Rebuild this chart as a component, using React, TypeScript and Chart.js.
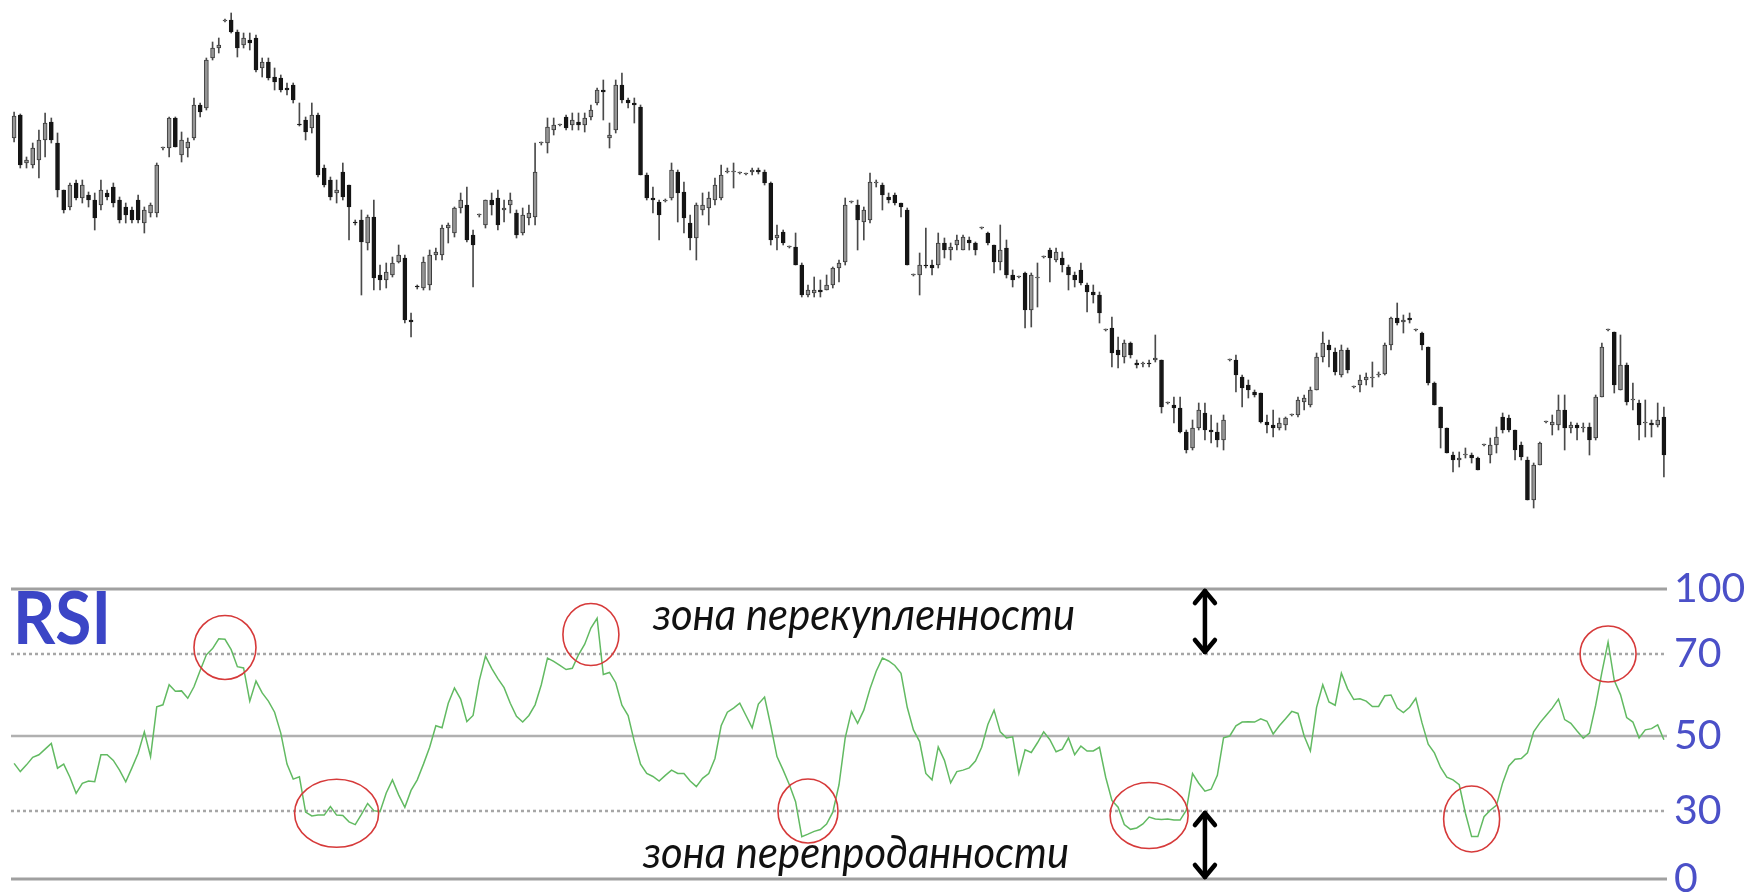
import React, { useEffect, useRef } from 'react';
import { Chart, registerables, LinearScale } from 'chart.js';

Chart.register(...registerables);

// ---------- price candles (one per session) ----------
const candleOpen = [
  862,885,837,835,840,860,878,857,810,793, 817,802,805,800,795,807,813,800,793,790,
  800,777,787,787,852,852,882,845,852,862, 895,892,942,952,979,980,968,955,960,962,
  932,938,923,922,912,915,876,880,872,885, 832,820,807,828,815,778,780,757,783,725,
  720,725,738,742,680,714,712,715,745,745, 772,767,792,795,765,785,775,800,802,790,
  795,787,767,782,783,857,857,870,875,883, 875,878,875,883,897,910,862,870,915,900,
  897,893,825,802,798,799,802,828,808,777, 762,790,792,800,802,828,828,827,826,828,
  830,828,817,762,768,753,753,735,705,707, 710,710,715,732,738,798,795,778,780,817,
  815,803,805,797,790,725,725,735,735,735, 757,750,755,750,760,757,772,767,755,738,
  752,725,723,727,690,722,743,750,740,742, 733,725,730,715,708,705,670,672,650,643,
  657,637,636,637,640,640,597,595,592,568, 552,572,587,570,568,560,640,640,623,615,
  608,607,578,575,572,575,585,585,598,595, 610,643,655,648,625,650,613,615,620,622,
  625,626,655,682,678,682,670,667,653,617, 593,572,545,540,545,545,542,555,545,555,
  583,582,570,555,540,500,535,578,575,575, 590,572,575,572,573,562,603,670,668,610,
  635,600,597,577,577,575,583,
];
const candleHigh = [
  888,886,843,857,870,887,882,867,810,817, 820,820,808,807,820,810,817,803,797,793,
  805,793,797,837,853,883,883,868,862,902, 897,942,958,962,981,987,970,967,967,965,
  942,942,932,925,917,917,897,883,897,887, 835,823,820,837,815,780,790,785,800,735,
  737,743,755,745,687,715,743,750,752,775, 777,793,807,813,770,786,800,807,810,800,
  807,790,792,795,857,858,882,882,876,885, 887,887,887,895,912,920,877,920,927,902,
  902,895,827,813,800,801,837,830,818,785, 797,807,808,822,835,832,837,828,827,832,
  832,830,818,775,770,754,767,737,715,723, 720,725,733,740,802,799,800,793,827,820,
  817,807,807,797,792,726,747,772,740,767, 762,757,765,765,763,758,773,768,755,775,
  760,730,724,728,727,737,744,752,752,748, 735,728,737,717,715,708,671,683,663,660,
  658,640,638,640,665,640,598,603,603,570, 580,597,597,585,577,585,641,645,625,620,
  610,607,585,590,582,583,586,603,605,613, 647,668,660,652,655,652,614,625,627,638,
  628,657,683,697,685,687,671,668,653,618, 593,572,548,548,552,547,543,556,562,573,
  587,585,570,558,543,537,558,579,585,605, 605,578,577,577,577,605,657,671,668,665,
  637,617,600,600,580,597,593,
];
const candleLow = [
  858,832,832,832,822,843,857,803,787,790, 800,797,793,770,790,800,793,777,777,777,
  777,767,783,783,850,843,853,838,843,860, 883,890,940,947,978,967,943,952,950,928,
  923,920,910,908,905,897,874,860,867,823, 813,800,797,800,760,775,705,750,710,710,
  712,723,737,677,663,711,710,710,740,740, 757,763,787,758,713,783,772,785,770,778,
  787,762,765,775,775,855,847,865,874,870, 870,870,868,880,895,880,852,867,897,892,
  877,825,800,787,760,798,800,778,767,750, 740,785,775,795,800,827,812,826,825,825,
  826,815,755,750,755,752,735,703,703,703, 703,710,712,718,735,797,750,760,777,813,
  790,797,795,783,735,724,705,732,725,732, 742,740,750,750,750,745,771,755,727,730,
  722,713,722,672,673,693,742,718,738,728, 710,713,715,688,697,677,669,633,632,637,
  642,632,633,633,638,587,596,577,567,547, 550,570,560,557,553,550,639,608,593,602,
  603,577,567,563,570,570,584,583,590,593, 610,638,633,625,623,627,612,608,615,613,
  623,625,650,675,667,677,669,650,615,595, 552,547,528,533,542,537,530,554,537,547,
  567,568,540,540,500,492,535,577,565,570, 550,567,560,568,545,560,603,669,607,610,
  595,590,560,563,563,573,523,
];
const candleClose = [
  884,835,840,852,860,877,860,810,790,815, 802,815,800,782,810,803,797,780,785,780,
  780,790,795,835,852,882,853,860,858,895, 888,940,952,955,980,968,952,962,957,930,
  938,922,918,910,910,900,875,868,885,825, 815,803,810,803,793,777,758,783,722,720,
  728,737,745,680,678,713,738,745,748,772, 775,792,800,760,755,785,800,795,775,792,
  800,765,785,787,828,857,873,875,875,872, 880,875,882,890,910,908,865,915,900,897,
  895,825,802,800,785,800,830,807,782,762, 795,795,802,815,825,828,828,827,826,830,
  828,817,760,765,757,753,735,705,710,710, 708,715,732,737,795,798,780,790,818,817,
  805,800,797,793,735,725,735,734,732,757, 750,753,760,763,757,750,772,757,738,750,
  725,720,723,690,725,722,743,742,748,735, 725,720,717,708,705,687,670,647,645,657,
  645,635,637,636,642,593,597,592,568,550, 572,590,570,568,560,580,640,625,612,610,
  605,578,575,572,577,582,585,600,602,610, 643,657,650,628,650,630,613,620,623,622,
  626,655,682,677,680,680,670,655,617,595, 572,547,540,542,545,542,530,555,555,563,
  570,570,550,543,500,535,557,578,578,590, 572,575,572,573,560,603,653,670,615,635,
  598,600,575,577,575,580,545,
];

// ---------- RSI, one value per session ----------
const rsiValues = [
  42.7,40.5,42.3,44.3,45.0,46.5,48.0,41.4,42.5,39.0, 34.7,37.4,38.0,37.8,45.0,45.0,43.5,40.9,37.8,41.5,
  45.4,51.0,44.5,57.1,57.6,62.5,60.9,61.0,59.2,62.0, 66.0,69.8,72.5,77.0,76.8,72.0,66.9,66.6,58.5,63.4,
  60.5,58.5,55.8,50.7,42.5,38.5,39.1,29.5,27.8,28.2, 28.2,31.2,28.2,28.0,25.2,24.0,28.5,32.0,30.1,29.7,
  34.8,38.3,34.3,31.0,35.5,38.3,42.5,47.0,52.5,52.0, 58.0,61.7,59.0,53.5,55.0,63.5,69.5,66.5,64.0,61.8,
  58.0,54.8,53.4,55.0,57.6,62.5,69.0,68.2,67.2,66.2, 66.5,69.8,74.5,82.0,86.5,65.0,65.5,63.0,57.5,55.0,
  48.5,42.5,40.0,39.2,38.0,39.5,40.9,40.0,40.0,38.0, 36.5,38.7,40.0,44.0,52.5,55.8,56.8,58.0,55.0,52.0,
  57.8,59.5,52.5,44.5,40.9,37.0,32.5,18.7,19.8,21.0, 21.8,24.2,29.5,37.0,49.5,56.0,53.1,56.3,61.5,65.8,
  69.0,68.3,67.2,65.3,57.0,51.5,48.5,40.0,38.3,47.1, 43.5,37.5,40.5,40.9,41.5,43.3,47.0,52.8,56.3,51.0,
  49.5,49.8,40.0,46.3,45.6,48.2,51.0,49.0,45.8,46.5, 49.5,45.0,47.3,46.0,46.0,47.0,39.0,32.8,31.0,24.0,
  21.9,22.5,24.3,27.3,26.5,26.3,26.5,26.0,26.0,30.2, 40.0,37.4,35.3,35.8,39.5,49.5,50.0,52.5,53.4,53.5,
  53.4,54.2,53.6,50.5,52.5,54.2,56.0,55.5,50.0,46.0, 57.0,62.5,58.3,57.5,65.3,61.5,58.9,59.1,58.5,57.2,
  57.2,59.8,60.0,56.8,55.7,57.0,59.2,53.2,47.8,45.5, 41.6,39.0,38.3,37.0,29.0,18.7,18.7,27.5,30.2,31.5,
  37.5,42.0,43.8,44.0,45.5,51.0,53.2,55.0,56.8,59.0, 54.0,53.1,51.2,49.4,50.7,57.5,65.5,75.5,63.5,60.1,
  54.5,53.4,49.5,51.5,51.8,52.7,49.0,
];

const rsiTickValues = [0, 30, 50, 70, 100];
const rsiLevels = [100, 70, 50, 30, 0];
const overboughtLevel = 70;
const oversoldLevel = 30;

// Circled extremes: session index and RSI value at the circle's centre
const markedIndex = [34, 52, 93, 128, 183, 235, 257];
const markedValue = [73, 29, 79, 30, 28, 26.5, 70];
const arrowIndex = 192;

const labelOverbought = 'зона перекупленности';
const labelOversold = 'зона перепроданности';

// The reference draws the RSI panel on a non-uniform vertical scale
const rsiAxisStops = [0, 30, 50, 70, 100];
const rsiAxisStopFractions = [0, 0.2345, 0.4931, 0.7759, 1];

function valueToFraction(v: number): number {
  const s = rsiAxisStops, f = rsiAxisStopFractions;
  for (let k = 1; k < s.length; k++) {
    if (v <= s[k] || k === s.length - 1) {
      return f[k - 1] + ((v - s[k - 1]) / (s[k] - s[k - 1])) * (f[k] - f[k - 1]);
    }
  }
  return 1;
}
function fractionToValue(d: number): number {
  const s = rsiAxisStops, f = rsiAxisStopFractions;
  for (let k = 1; k < f.length; k++) {
    if (d <= f[k] || k === f.length - 1) {
      return s[k - 1] + ((d - f[k - 1]) / (f[k] - f[k - 1])) * (s[k] - s[k - 1]);
    }
  }
  return 100;
}

class PiecewiseScale extends LinearScale {
  static id = 'piecewise';
  static defaults = LinearScale.defaults;
  getPixelForValue(value: any) {
    if (value === null || value === undefined || Number.isNaN(value)) return NaN;
    return this.getPixelForDecimal(valueToFraction(+value));
  }
  getValueForPixel(pixel: number) {
    return fractionToValue(this.getDecimalForPixel(pixel));
  }
}
Chart.register(PiecewiseScale as any);

const sessionLabels = candleOpen.map((_, i) => String(i + 1));

const markRadii = [[31, 32], [42, 34], [28, 31], [30, 32], [39, 33], [28, 33], [28, 28]];
const levelStyle: Record<number, { w: number; dash: number[]; color: string }> = {
  100: { w: 3, dash: [], color: '#a0a0a0' },
  70: { w: 2.5, dash: [3, 3], color: '#a6a6a6' },
  50: { w: 2.5, dash: [], color: '#b0b0b0' },
  30: { w: 2.5, dash: [3, 3], color: '#a6a6a6' },
  0: { w: 3, dash: [], color: '#a0a0a0' },
};

function drawArrow(ctx: CanvasRenderingContext2D, x: number, y1: number, y2: number) {
  const head = 14, half = 10;
  ctx.save();
  ctx.strokeStyle = '#000';
  ctx.lineWidth = 4.5;
  ctx.lineCap = 'round';
  ctx.lineJoin = 'round';
  ctx.beginPath();
  ctx.moveTo(x, y1 + 2);
  ctx.lineTo(x, y2 - 2);
  ctx.stroke();
  ctx.beginPath();
  ctx.moveTo(x - half, y1 + head);
  ctx.lineTo(x, y1 + 2);
  ctx.lineTo(x + half, y1 + head);
  ctx.stroke();
  ctx.beginPath();
  ctx.moveTo(x - half, y2 - head);
  ctx.lineTo(x, y2 - 2);
  ctx.lineTo(x + half, y2 - head);
  ctx.stroke();
  ctx.restore();
}

function fitText(ctx: CanvasRenderingContext2D, text: string, x: number, y: number, width: number) {
  const w = ctx.measureText(text).width;
  ctx.save();
  ctx.translate(x, y);
  ctx.scale(width / w, 1);
  ctx.fillText(text, 0, 0);
  ctx.restore();
}

const rsiDecor = {
  id: 'rsiDecor',
  beforeDatasetsDraw(chart: any) {
    const { ctx, chartArea, scales } = chart;
    ctx.save();
    for (const lvl of rsiLevels) {
      const st = levelStyle[lvl];
      const py = scales.y.getPixelForValue(lvl);
      ctx.beginPath();
      ctx.setLineDash(st.dash);
      ctx.lineWidth = st.w;
      ctx.strokeStyle = st.color;
      ctx.moveTo(chartArea.left, py);
      ctx.lineTo(chartArea.right, py);
      ctx.stroke();
    }
    ctx.restore();
  },
  afterDatasetsDraw(chart: any) {
    const { ctx, scales } = chart;
    const xs = scales.x, ys = scales.y;
    ctx.save();
    ctx.strokeStyle = '#d63a3a';
    ctx.lineWidth = 1.6;
    markedIndex.forEach((idx, k) => {
      const cx = xs.getPixelForValue(idx);
      const cy = ys.getPixelForValue(markedValue[k]);
      ctx.beginPath();
      ctx.ellipse(cx, cy, markRadii[k][0], markRadii[k][1], 0, 0, Math.PI * 2);
      ctx.stroke();
    });
    ctx.restore();
    const ax = xs.getPixelForValue(arrowIndex);
    drawArrow(ctx, ax, ys.getPixelForValue(100), ys.getPixelForValue(overboughtLevel));
    drawArrow(ctx, ax, ys.getPixelForValue(oversoldLevel), ys.getPixelForValue(0));
  },
  afterDraw(chart: any) {
    const { ctx } = chart;
    ctx.save();
    ctx.textBaseline = 'alphabetic';
    ctx.textAlign = 'left';
    ctx.fillStyle = '#3b45c6';
    ctx.font = 'bold 73px Lato';
    fitText(ctx, 'RSI', 13, 84, 98);
    ctx.fillStyle = '#111111';
    ctx.font = 'italic 45px Lato';
    fitText(ctx, labelOverbought, 653, 70, 422);
    fitText(ctx, labelOversold, 643, 308, 426);
    ctx.restore();
  },
};

export default function App() {
  const topRef = useRef<HTMLCanvasElement>(null);
  const botRef = useRef<HTMLCanvasElement>(null);

  useEffect(() => {
    const isUp = (i: number) => candleClose[i] >= candleOpen[i];
    const top = new Chart(topRef.current as HTMLCanvasElement, {
      type: 'bar',
      data: {
        labels: sessionLabels,
        datasets: [
          {
            label: 'body',
            data: candleOpen.map((o, i) => [o, candleClose[i]]) as any,
            backgroundColor: (c: any) => (isUp(c.dataIndex) ? '#959595' : '#151515'),
            borderColor: (c: any) => (isUp(c.dataIndex) ? '#3a3a3a' : '#151515'),
            borderWidth: 1,
            borderSkipped: false,
            barThickness: 4,
            minBarLength: 1,
            grouped: false,
            order: 0,
          },
          {
            label: 'wick',
            data: candleLow.map((l, i) => [l, candleHigh[i]]) as any,
            backgroundColor: '#4a4a4a',
            borderWidth: 0,
            barThickness: 1,
            grouped: false,
            order: 1,
          },
        ],
      },
      options: {
        responsive: false,
        animation: false,
        devicePixelRatio: 1,
        events: [],
        layout: { padding: { left: 11, right: 79, top: 0, bottom: 0 } },
        plugins: { legend: { display: false }, tooltip: { enabled: false } },
        scales: {
          x: { type: 'category', offset: true, display: false },
          y: { type: 'linear', min: 470, max: 1000, display: false },
        },
      },
    });

    const bot = new Chart(botRef.current as HTMLCanvasElement, {
      type: 'line',
      data: {
        labels: sessionLabels,
        datasets: [
          {
            label: 'RSI',
            data: rsiValues,
            borderColor: '#62ba62',
            borderWidth: 1.5,
            pointRadius: 0,
            tension: 0,
            fill: false,
          },
        ],
      },
      options: {
        responsive: false,
        animation: false,
        devicePixelRatio: 1,
        events: [],
        layout: { padding: { left: 11, right: 0, top: 29, bottom: 15 } },
        plugins: { legend: { display: false }, tooltip: { enabled: false } },
        scales: {
          x: { type: 'category', offset: true, display: false },
          y: {
            type: 'piecewise' as any,
            position: 'right',
            min: 0,
            max: 100,
            afterBuildTicks: (axis: any) => {
              axis.ticks = rsiTickValues.map((v) => ({ value: v }));
            },
            afterFit: (axis: any) => {
              axis.width = 79;
              axis.paddingTop = 0;
              axis.paddingBottom = 0;
            },
            grid: { display: false, drawTicks: false },
            border: { display: false },
            ticks: { color: '#4b50c8', font: { family: 'Lato', size: 41 }, padding: 7 },
          } as any,
        },
      },
      plugins: [rsiDecor],
    });

    return () => {
      top.destroy();
      bot.destroy();
    };
  }, []);

  return (
    <div style={{ position: 'fixed', left: 0, top: 0, width: 1746, height: 894, background: '#ffffff', overflow: 'hidden' }}>
      <canvas ref={topRef} width={1746} height={530} style={{ position: 'absolute', left: 0, top: 0 }} />
      <canvas ref={botRef} width={1746} height={334} style={{ position: 'absolute', left: 0, top: 560 }} />
    </div>
  );
}
